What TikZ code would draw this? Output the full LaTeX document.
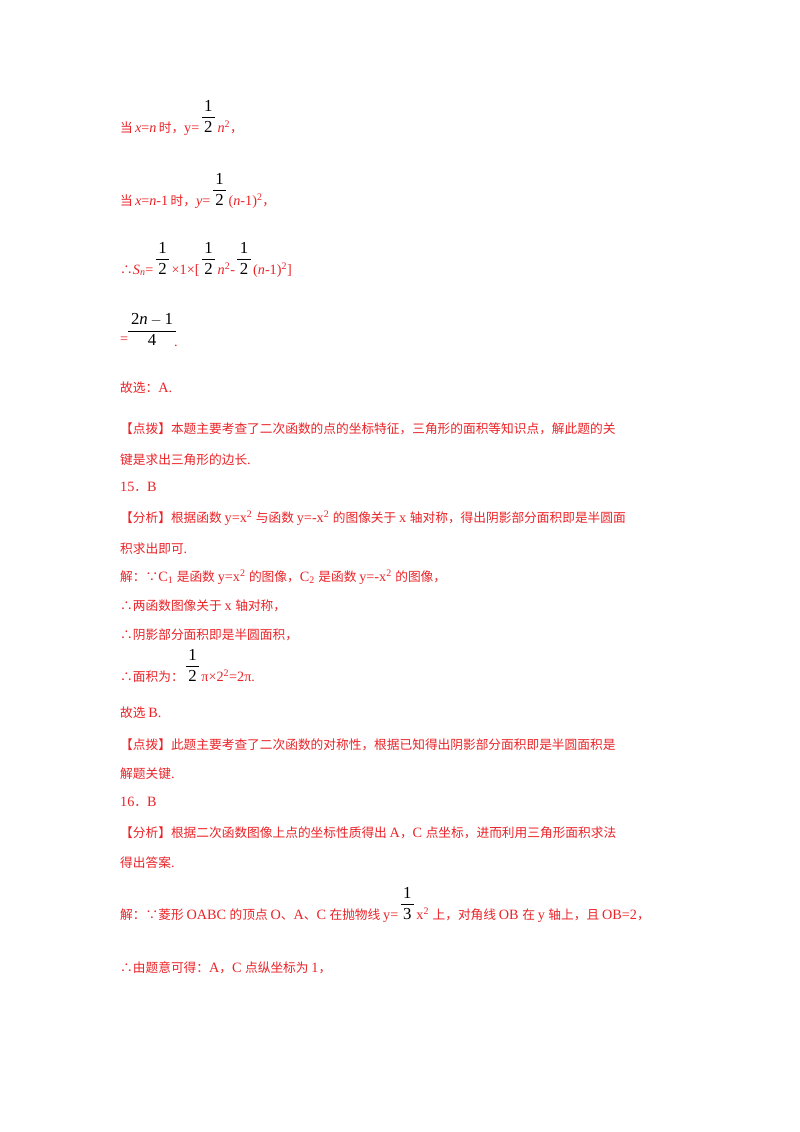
\documentclass[tikz,border=0pt]{standalone}
\usepackage{fontspec}
\setmainfont[Scale=1.12]{Liberation Serif}
\newfontfamily\cjk{Noto Sans CJK SC}
\newfontfamily\frfont{Liberation Sans}
\XeTeXinterchartokenstate=1
\newXeTeXintercharclass\cjkclass
\count255="4E00
\loop\XeTeXcharclass\count255=\cjkclass\advance\count255 1\ifnum\count255<"A000\repeat
\count255="3000
\loop\XeTeXcharclass\count255=\cjkclass\advance\count255 1\ifnum\count255<"3040\repeat
\count255="FF00
\loop\XeTeXcharclass\count255=\cjkclass\advance\count255 1\ifnum\count255<"FFF0\repeat
\XeTeXcharclass"2234=\cjkclass
\XeTeXcharclass"2235=\cjkclass
\XeTeXinterchartoks 0 \cjkclass={\cjk}
\XeTeXinterchartoks 4095 \cjkclass={\cjk}
\XeTeXinterchartoks \cjkclass 0={\rmfamily}
\XeTeXinterchartoks 4095 0={\rmfamily}
\definecolor{tred}{RGB}{235,35,40}
\newcommand\myfr[2]{\,\textcolor{black}{\frfont\fontsize{15}{17}\selectfont\renewcommand\arraystretch{1.0}\setlength\tabcolsep{2.5pt}\begin{tabular}[b]{c}#1\\[1pt]\hline\rule{0pt}{14.5pt}#2\end{tabular}}\,}
\begin{document}
\begin{tikzpicture}[x=1pt,y=1pt,
  txt/.style={anchor=base west,inner sep=0pt,text=tred,font=\fontsize{12.7}{15}\selectfont}]
\useasboundingbox[fill=white] (0,0) rectangle (800,-1132);
\node[txt] (l1) at (120,-132) {当\,\textit{x}=\textit{n}\,时，y=\myfr{1}{2}\textit{n}\textsuperscript{2}，};
\node[txt] (l2) at (120,-205) {当\,\textit{x}=\textit{n}-1\,时，\textit{y}=\myfr{1}{2}(\textit{n}-1)\textsuperscript{2}，};
\node[txt] (l3) at (120,-274) {∴\textit{S}\textsubscript{\textit{n}}=\myfr{1}{2}×1×[\myfr{1}{2}\textit{n}\textsuperscript{2}-\myfr{1}{2}(\textit{n}-1)\textsuperscript{2}]};
\node[txt] (l4a) at (120,-343) {=};
\node[inner sep=0pt,font=\frfont\fontsize{15}{17}\selectfont] (l4f) at (152,-332) {\setlength\tabcolsep{3pt}\begin{tabular}{c}2\textit{n}\,$-$\,1\\[1pt]\hline\rule{0pt}{14.5pt}4\end{tabular}};
\node[txt] (l4b) at (174,-346) {.};
\node[txt] (l5) at (120,-392) {故选：A.};
\node[txt] (l6) at (120,-433) {【点拨】本题主要考查了二次函数的点的坐标特征，三角形的面积等知识点，解此题的关};
\node[txt] (l7) at (120,-464) {键是求出三角形的边长.};
\node[txt] (l8) at (120,-491) {15．B};
\node[txt] (l9) at (120,-522) {【分析】根据函数 y=x\textsuperscript{2} 与函数 y=-x\textsuperscript{2} 的图像关于 x 轴对称，得出阴影部分面积即是半圆面};
\node[txt] (l10) at (120,-553) {积求出即可.};
\node[txt] (l11) at (120,-581) {解：∵C\textsubscript{1} 是函数 y=x\textsuperscript{2} 的图像，C\textsubscript{2} 是函数 y=-x\textsuperscript{2} 的图像，};
\node[txt] (l12) at (120,-610) {∴两函数图像关于 x 轴对称，};
\node[txt] (l13) at (120,-639) {∴阴影部分面积即是半圆面积，};
\node[txt] (l14) at (120,-681) {∴面积为：\myfr{1}{2}π×2\textsuperscript{2}=2π.};
\node[txt] (l15) at (120,-717) {故选 B.};
\node[txt] (l16) at (120,-749) {【点拨】此题主要考查了二次函数的对称性，根据已知得出阴影部分面积即是半圆面积是};
\node[txt] (l17) at (120,-778) {解题关键.};
\node[txt] (l18) at (120,-806) {16．B};
\node[txt] (l19) at (120,-837) {【分析】根据二次函数图像上点的坐标性质得出 A，C 点坐标，进而利用三角形面积求法};
\node[txt] (l20) at (120,-867) {得出答案.};
\node[txt] (l21) at (120,-919) {解：∵菱形 OABC 的顶点 O、A、C 在抛物线 y=\myfr{1}{3}x\textsuperscript{2} 上，对角线 OB 在 y 轴上，且 OB=2，};
\node[txt] (l22) at (120,-972) {∴由题意可得：A，C 点纵坐标为 1，};
\end{tikzpicture}
\end{document}
